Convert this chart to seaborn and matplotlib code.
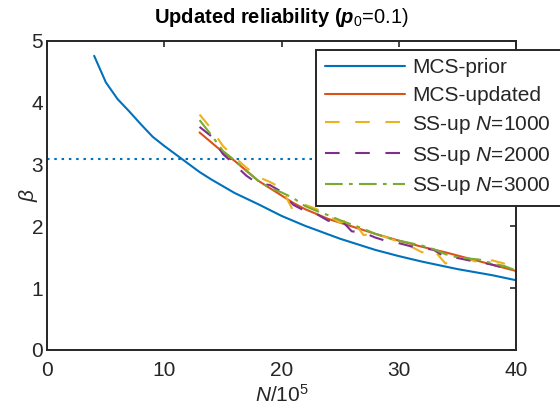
import numpy as np
import pandas as pd
import matplotlib
matplotlib.use("Agg")
import matplotlib.pyplot as plt
import seaborn as sns

# ---- data ----
x_prior = [4, 5, 6, 7, 8, 9, 10, 11, 12, 13, 14, 15, 16, 18, 20, 22, 25, 28, 30, 32, 35, 38, 40]
b_prior = [4.76, 4.33, 4.06, 3.86, 3.65, 3.45, 3.30, 3.16, 3.02, 2.88, 2.76, 2.65,
           2.54, 2.36, 2.17, 2.01, 1.80, 1.62, 1.52, 1.43, 1.31, 1.21, 1.13]

x_upd = [13, 14, 15, 16, 17, 18, 19, 20, 21, 22, 24, 26, 28, 30, 32, 34, 36, 38, 40]
b_upd = [3.52, 3.36, 3.20, 3.06, 2.90, 2.74, 2.62, 2.50, 2.38, 2.28, 2.12, 2.00,
         1.88, 1.77, 1.67, 1.58, 1.48, 1.38, 1.28]

x_ss = list(range(13, 41))
b_ss1000 = [3.81, 3.58, 3.30, 3.12, 2.95, 2.80, 2.72, 2.62, 2.25, 2.35, 2.28, 2.17,
            2.06, 2.12, 1.86, 1.88, 1.82, 1.75, 1.68, 1.58, 1.62, 1.40, 1.48, 1.47,
            1.40, 1.45, 1.40, 1.29]
b_ss2000 = [3.61, 3.46, 3.17, 3.00, 2.82, 2.69, 2.67, 2.56, 2.35, 2.25, 2.20, 2.09,
            2.12, 1.92, 1.90, 1.82, 1.76, 1.73, 1.68, 1.65, 1.62, 1.50, 1.49, 1.45,
            1.42, 1.38, 1.33, 1.27]
b_ss3000 = [3.72, 3.48, 3.22, 3.07, 2.90, 2.74, 2.62, 2.55, 2.46, 2.33, 2.25, 2.18,
            2.10, 2.03, 1.96, 1.88, 1.82, 1.77, 1.73, 1.69, 1.63, 1.55, 1.50, 1.48,
            1.46, 1.40, 1.36, 1.29]

beta_target = 3.09

labels = ["MCS-prior", "MCS-updated", "SS-up $N$=1000", "SS-up $N$=2000", "SS-up $N$=3000"]
x_ticks = [0, 10, 20, 30, 40]
y_ticks = [0, 1, 2, 3, 4, 5]

# ---- long-form table ----
frames = []
for lab, xs, ys in zip(labels,
                       [x_prior, x_upd, x_ss, x_ss, x_ss],
                       [b_prior, b_upd, b_ss1000, b_ss2000, b_ss3000]):
    frames.append(pd.DataFrame({"N": xs, "beta": ys, "series": lab}))
df = pd.concat(frames, ignore_index=True)

# ---- style ----
sns.set_theme(style="white")
plt.rcParams["font.family"] = ["Liberation Sans", "DejaVu Sans"]
plt.rcParams["mathtext.fontset"] = "custom"
plt.rcParams["mathtext.rm"] = "Liberation Sans"
plt.rcParams["mathtext.it"] = "Liberation Sans:italic"
plt.rcParams["mathtext.bf"] = "Liberation Sans:bold"
plt.rcParams["mathtext.bfit"] = "Liberation Sans:bold:italic"

dark = "#262626"
fs = 15
palette = {labels[0]: "#0072BD", labels[1]: "#D95319", labels[2]: "#EDB120",
           labels[3]: "#7E2F8E", labels[4]: "#77AC30"}
dashes = {labels[0]: "", labels[1]: "", labels[2]: (7, 7.5),
          labels[3]: (7, 7.5), labels[4]: (8.5, 3, 1.8, 3)}

fig = plt.figure(figsize=(5.6, 4.17), dpi=100)
ax = fig.add_axes([0.0845, 0.1607, 0.8364, 0.741])

ax.axhline(beta_target, color="#0072BD", lw=1.5, linestyle=(0, (1.2, 2.3)), zorder=1)

sns.lineplot(data=df, x="N", y="beta", hue="series", style="series",
             palette=palette, dashes=dashes, hue_order=labels, style_order=labels,
             estimator=None, sort=False, lw=1.5, ax=ax, zorder=2)

ax.set_xlim(0, 40)
ax.set_ylim(0, 5)
ax.set_xticks(x_ticks)
ax.set_yticks(y_ticks)
ax.tick_params(axis="both", direction="in", length=4, width=1.2, colors=dark,
               labelsize=fs, top=True, right=True)
ax.tick_params(axis="x", pad=8)
ax.tick_params(axis="y", pad=3)
for s in ax.spines.values():
    s.set_color(dark)
    s.set_linewidth(1.4)
    s.set_visible(True)

ax.set_xlabel("$N$/10$^5$", fontsize=fs, color=dark, labelpad=3)
ax.set_ylabel(r"$\beta$", fontsize=fs, color=dark, labelpad=-6)
ax.set_title(r"$\mathbf{Updated\ reliability\ (}\mathbfit{p}_{0}$=0.1)",
             fontsize=14.5, color="black", pad=13)

handles, labs = ax.get_legend_handles_labels()
leg = ax.legend(handles, labs, loc="upper left",
                bbox_to_anchor=(0.574, 0.371, 0.54, 0.6), mode="expand",
                borderaxespad=0, frameon=True, fancybox=False, framealpha=1,
                edgecolor=dark, fontsize=fs, handlelength=3.85, handletextpad=0.35,
                labelspacing=0.42, borderpad=0.4)
leg.get_frame().set_linewidth(1.4)
for line in leg.get_lines():
    line.set_linewidth(1.5)

fig.savefig("out.png", dpi=100)
